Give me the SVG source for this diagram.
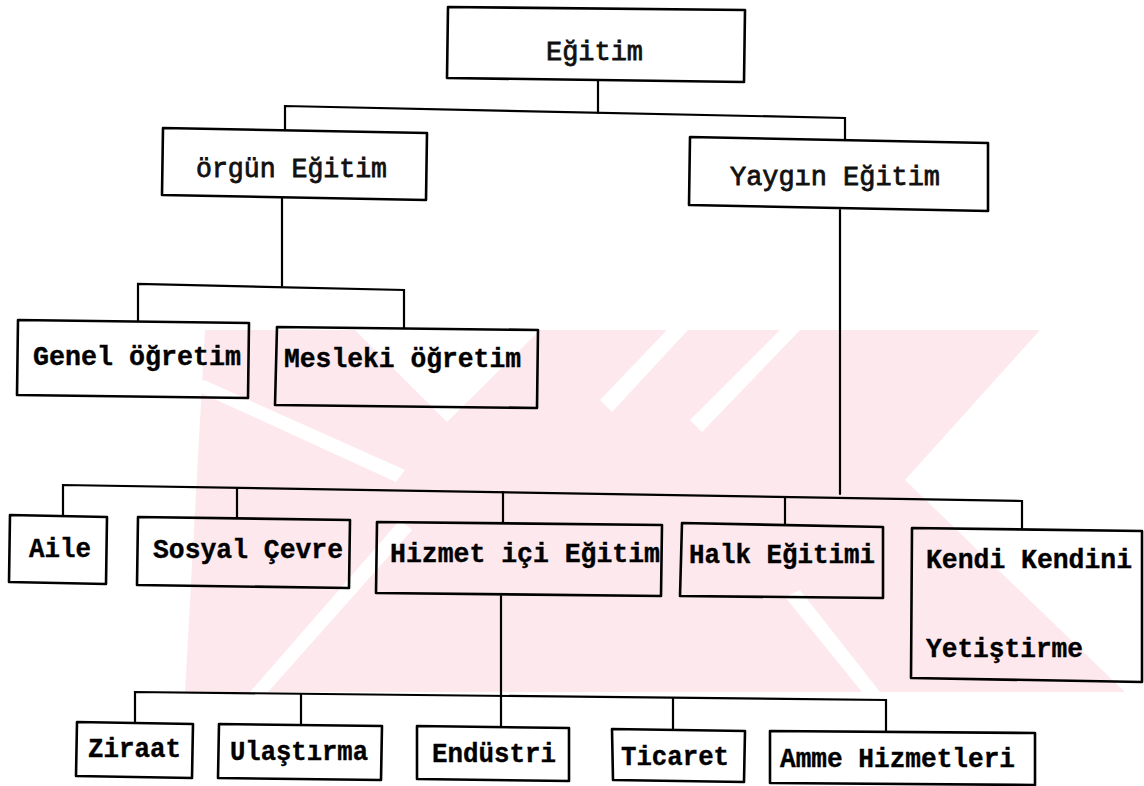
<svg xmlns="http://www.w3.org/2000/svg" width="1144" height="786" viewBox="0 0 1144 786">
<style>
.box{fill:none;stroke:#000;stroke-width:2.6;stroke-linejoin:round}
.ln{fill:none;stroke:#000;stroke-width:2.2;stroke-linecap:round}
.t{font-family:"Liberation Mono","DejaVu Sans Mono",monospace;font-size:28px;font-weight:bold;fill:#000;stroke:#000;stroke-width:0.4}
.tl{font-family:"Liberation Mono","DejaVu Sans Mono",monospace;font-size:27px;font-weight:normal;fill:#111;stroke:#111;stroke-width:0.8}
.wm{fill:#fde9ed}
.wc{fill:#fff}
</style>
<rect width="1144" height="786" fill="#fff"/>
<g id="watermark">
<path class="wm" d="M205,330 L1040,330 L905,480 L1125,692 L185,692 Z"/>
<path class="wc" d="M355,330 L540,330 L447,422 Z"/>
<path class="wc" d="M186,386 L204,380 L405,470 L396,482 Z"/>
<path class="wc" d="M600,400 L667,330 L688,330 L612,412 Z"/>
<path class="wc" d="M690,420 L780,330 L800,330 L702,432 Z"/>
<path class="wc" d="M250,692 L400,520 L412,530 L268,692 Z"/>
<path class="wc" d="M785,597 L800,590 L880,692 L862,692 Z"/>
</g>
<g id="connectors">
<path class="ln" d="M598,80 L598,113"/>
<path class="ln" d="M285,130 L285,106 L845,118 L845,140"/>
<path class="ln" d="M282,198 L282,286"/>
<path class="ln" d="M138,321 L138,284 L404,290 L404,328"/>
<path class="ln" d="M840,210 L840,494"/>
<path class="ln" d="M63,516 L63,485 L1022,501 L1022,529"/>
<path class="ln" d="M237,488 L237,518"/>
<path class="ln" d="M503,492 L503,523"/>
<path class="ln" d="M785,497 L785,525"/>
<path class="ln" d="M501,596 L501,727"/>
<path class="ln" d="M135,723 L135,692 L886,700 L886,732"/>
<path class="ln" d="M301,694 L301,725"/>
<path class="ln" d="M673,698 L673,730"/>
</g>
<g id="n-egitim"><path class="box" d="M448,7 L745,10 L744,82 L447,78 Z"/><text class="tl" x="546" y="60" textLength="97" lengthAdjust="spacingAndGlyphs">Eğitim</text></g>
<g id="n-orgun"><path class="box" d="M163,128 L427,133 L426,200 L162,195 Z"/><text class="tl" x="196" y="177" textLength="191" lengthAdjust="spacingAndGlyphs">örgün Eğitim</text></g>
<g id="n-yaygin"><path class="box" d="M690,137 L988,143 L988,211 L689,205 Z"/><text class="tl" x="730" y="185" textLength="210" lengthAdjust="spacingAndGlyphs">Yaygın Eğitim</text></g>
<g id="n-genel"><path class="box" d="M18,320 L249,323 L248,398 L17,395 Z"/><text class="t" x="33" y="365" textLength="208" lengthAdjust="spacingAndGlyphs">Genel öğretim</text></g>
<g id="n-mesleki"><path class="box" d="M277,327 L538,330 L537,408 L275,405 Z"/><text class="t" x="284" y="367" textLength="237" lengthAdjust="spacingAndGlyphs">Mesleki öğretim</text></g>
<g id="n-aile"><path class="box" d="M10,515 L107,517 L106,584 L9,582 Z"/><text class="t" x="29" y="557" textLength="62" lengthAdjust="spacingAndGlyphs">Aile</text></g>
<g id="n-sosyal"><path class="box" d="M138,517 L350,520 L349,588 L137,585 Z"/><text class="t" x="153" y="558" textLength="190" lengthAdjust="spacingAndGlyphs">Sosyal Çevre</text></g>
<g id="n-hizmet"><path class="box" d="M377,522 L662,525 L661,596 L376,593 Z"/><text class="t" x="390" y="562" textLength="270" lengthAdjust="spacingAndGlyphs">Hizmet içi Eğitim</text></g>
<g id="n-halk"><path class="box" d="M682,523 L883,527 L883,598 L680,596 Z"/><text class="t" x="689" y="563" textLength="186" lengthAdjust="spacingAndGlyphs">Halk Eğitimi</text></g>
<g id="n-kendi"><path class="box" d="M912,528 L1142,531 L1142,682 L911,678 Z"/><text class="t" x="926" y="568" textLength="206" lengthAdjust="spacingAndGlyphs">Kendi Kendini</text><text class="t" x="926" y="657" textLength="157" lengthAdjust="spacingAndGlyphs">Yetiştirme</text></g>
<g id="n-ziraat"><path class="box" d="M77,722 L193,724 L192,778 L76,776 Z"/><text class="t" x="88" y="757" textLength="93" lengthAdjust="spacingAndGlyphs">Ziraat</text></g>
<g id="n-ulastirma"><path class="box" d="M219,724 L382,726 L381,780 L218,778 Z"/><text class="t" x="230" y="760" textLength="138" lengthAdjust="spacingAndGlyphs">Ulaştırma</text></g>
<g id="n-endustri"><path class="box" d="M417,726 L569,728 L569,781 L417,779 Z"/><text class="t" x="432" y="762" textLength="124" lengthAdjust="spacingAndGlyphs">Endüstri</text></g>
<g id="n-ticaret"><path class="box" d="M612,729 L745,731 L744,782 L613,780 Z"/><text class="t" x="621" y="765" textLength="108" lengthAdjust="spacingAndGlyphs">Ticaret</text></g>
<g id="n-amme"><path class="box" d="M770,731 L1035,733 L1035,785 L770,783 Z"/><text class="t" x="780" y="767" textLength="235" lengthAdjust="spacingAndGlyphs">Amme Hizmetleri</text></g>
</svg>
